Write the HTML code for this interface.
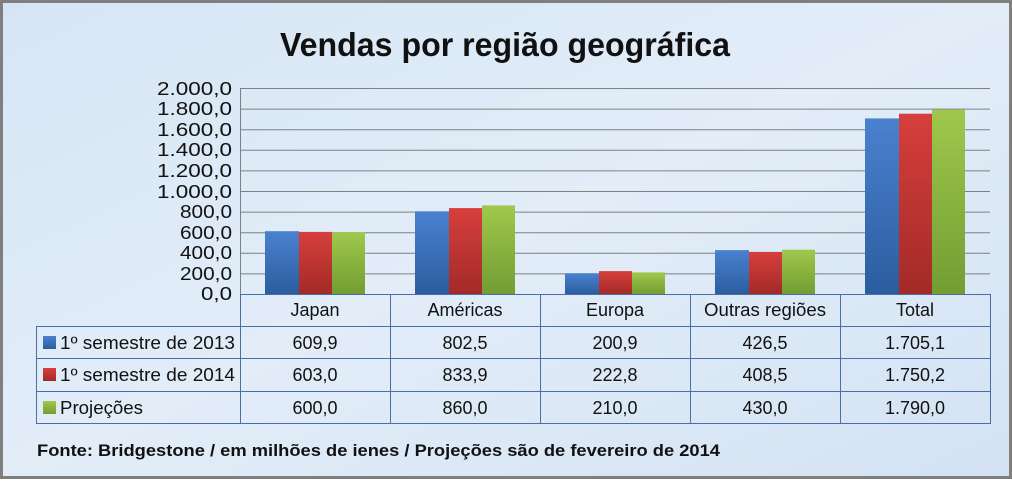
<!DOCTYPE html>
<html><head><meta charset="utf-8"><style>
html,body{margin:0;padding:0;}
body{width:1012px;height:479px;overflow:hidden;font-family:"Liberation Sans",sans-serif;}
</style></head><body>
<svg width="1012" height="479" xmlns="http://www.w3.org/2000/svg" font-family="Liberation Sans, sans-serif">
<defs>
<linearGradient id="bg" x1="0" y1="0" x2="1" y2="1"><stop offset="0" stop-color="#d6e5f5"/><stop offset="0.5" stop-color="#e2edf8"/><stop offset="1" stop-color="#d3e2f3"/></linearGradient>
<linearGradient id="b" x1="0" y1="0" x2="0" y2="1"><stop offset="0" stop-color="#4a82d0"/><stop offset="1" stop-color="#2b5d9e"/></linearGradient>
<linearGradient id="r" x1="0" y1="0" x2="0" y2="1"><stop offset="0" stop-color="#d63f3c"/><stop offset="1" stop-color="#a32a28"/></linearGradient>
<linearGradient id="g" x1="0" y1="0" x2="0" y2="1"><stop offset="0" stop-color="#9fc84c"/><stop offset="1" stop-color="#729d32"/></linearGradient>
</defs>
<rect x="0" y="0" width="1012" height="479" fill="url(#bg)"/>
<rect x="1.5" y="1.5" width="1009" height="476" fill="none" stroke="#7f7f7f" stroke-width="3"/>
<text x="280" y="56" font-size="33" font-weight="bold" fill="#111" textLength="450" lengthAdjust="spacingAndGlyphs">Vendas por região geográfica</text>
<g stroke="#808080" stroke-width="1">
<line x1="240" y1="88.5" x2="990" y2="88.5"/><line x1="240" y1="109.1" x2="990" y2="109.1"/><line x1="240" y1="129.7" x2="990" y2="129.7"/><line x1="240" y1="150.3" x2="990" y2="150.3"/><line x1="240" y1="170.9" x2="990" y2="170.9"/><line x1="240" y1="191.5" x2="990" y2="191.5"/><line x1="240" y1="212.1" x2="990" y2="212.1"/><line x1="240" y1="232.7" x2="990" y2="232.7"/><line x1="240" y1="253.3" x2="990" y2="253.3"/><line x1="240" y1="273.9" x2="990" y2="273.9"/>
<line x1="240.5" y1="88" x2="240.5" y2="294"/>
</g>
<g font-size="18" fill="#111" text-anchor="end">
<text x="232" y="95" textLength="75" lengthAdjust="spacingAndGlyphs">2.000,0</text><text x="232" y="115" textLength="75" lengthAdjust="spacingAndGlyphs">1.800,0</text><text x="232" y="136" textLength="75" lengthAdjust="spacingAndGlyphs">1.600,0</text><text x="232" y="156" textLength="75" lengthAdjust="spacingAndGlyphs">1.400,0</text><text x="232" y="177" textLength="75" lengthAdjust="spacingAndGlyphs">1.200,0</text><text x="232" y="198" textLength="75" lengthAdjust="spacingAndGlyphs">1.000,0</text><text x="232" y="218" textLength="52" lengthAdjust="spacingAndGlyphs">800,0</text><text x="232" y="239" textLength="52" lengthAdjust="spacingAndGlyphs">600,0</text><text x="232" y="259" textLength="52" lengthAdjust="spacingAndGlyphs">400,0</text><text x="232" y="280" textLength="52" lengthAdjust="spacingAndGlyphs">200,0</text><text x="232" y="300" textLength="31" lengthAdjust="spacingAndGlyphs">0,0</text>
</g>
<g>
<rect x="265" y="231.2" width="34" height="62.8" fill="url(#b)"/><rect x="299" y="231.9" width="33" height="62.1" fill="url(#r)"/><rect x="332" y="232.2" width="33" height="61.8" fill="url(#g)"/>
<rect x="415" y="211.3" width="34" height="82.7" fill="url(#b)"/><rect x="449" y="208.1" width="33" height="85.9" fill="url(#r)"/><rect x="482" y="205.4" width="33" height="88.6" fill="url(#g)"/>
<rect x="565" y="273.3" width="34" height="20.7" fill="url(#b)"/><rect x="599" y="271.1" width="33" height="22.9" fill="url(#r)"/><rect x="632" y="272.4" width="33" height="21.6" fill="url(#g)"/>
<rect x="715" y="250.1" width="34" height="43.9" fill="url(#b)"/><rect x="749" y="251.9" width="33" height="42.1" fill="url(#r)"/><rect x="782" y="249.7" width="33" height="44.3" fill="url(#g)"/>
<rect x="865" y="118.4" width="34" height="175.6" fill="url(#b)"/><rect x="899" y="113.7" width="33" height="180.3" fill="url(#r)"/><rect x="932" y="109.6" width="33" height="184.4" fill="url(#g)"/>
</g>
<g stroke="#4a6fa8" stroke-width="1" fill="none">
<line x1="240" y1="294.5" x2="990" y2="294.5"/>
<line x1="36" y1="326.5" x2="990" y2="326.5"/><line x1="36" y1="358.5" x2="990" y2="358.5"/><line x1="36" y1="391.5" x2="990" y2="391.5"/><line x1="36" y1="423.5" x2="990" y2="423.5"/>
<line x1="36.5" y1="326" x2="36.5" y2="424"/>
<line x1="240.5" y1="294" x2="240.5" y2="424"/><line x1="390.5" y1="294" x2="390.5" y2="424"/><line x1="540.5" y1="294" x2="540.5" y2="424"/><line x1="690.5" y1="294" x2="690.5" y2="424"/><line x1="840.5" y1="294" x2="840.5" y2="424"/><line x1="990.5" y1="294" x2="990.5" y2="424"/>
</g>
<g font-size="18" fill="#111" text-anchor="middle">
<text x="315" y="316">Japan</text><text x="465" y="316">Américas</text><text x="615" y="316">Europa</text><text x="765" y="316" textLength="122" lengthAdjust="spacingAndGlyphs">Outras regiões</text><text x="915" y="316">Total</text>
<text x="315" y="349">609,9</text><text x="465" y="349">802,5</text><text x="615" y="349">200,9</text><text x="765" y="349">426,5</text><text x="915" y="349">1.705,1</text>
<text x="315" y="381">603,0</text><text x="465" y="381">833,9</text><text x="615" y="381">222,8</text><text x="765" y="381">408,5</text><text x="915" y="381">1.750,2</text>
<text x="315" y="414">600,0</text><text x="465" y="414">860,0</text><text x="615" y="414">210,0</text><text x="765" y="414">430,0</text><text x="915" y="414">1.790,0</text>
</g>
<rect x="43" y="336" width="13" height="13" fill="url(#b)"/><rect x="43" y="368" width="13" height="13" fill="url(#r)"/><rect x="43" y="401" width="13" height="13" fill="url(#g)"/>
<g font-size="18" fill="#111">
<text x="60" y="349" textLength="175" lengthAdjust="spacingAndGlyphs">1º semestre de 2013</text><text x="60" y="381" textLength="175" lengthAdjust="spacingAndGlyphs">1º semestre de 2014</text><text x="60" y="414" textLength="83" lengthAdjust="spacingAndGlyphs">Projeções</text>
</g>
<text x="37" y="456" font-size="17" font-weight="bold" fill="#111" textLength="683" lengthAdjust="spacingAndGlyphs">Fonte: Bridgestone / em milhões de ienes / Projeções são de fevereiro de 2014</text>
</svg>
</body></html>
